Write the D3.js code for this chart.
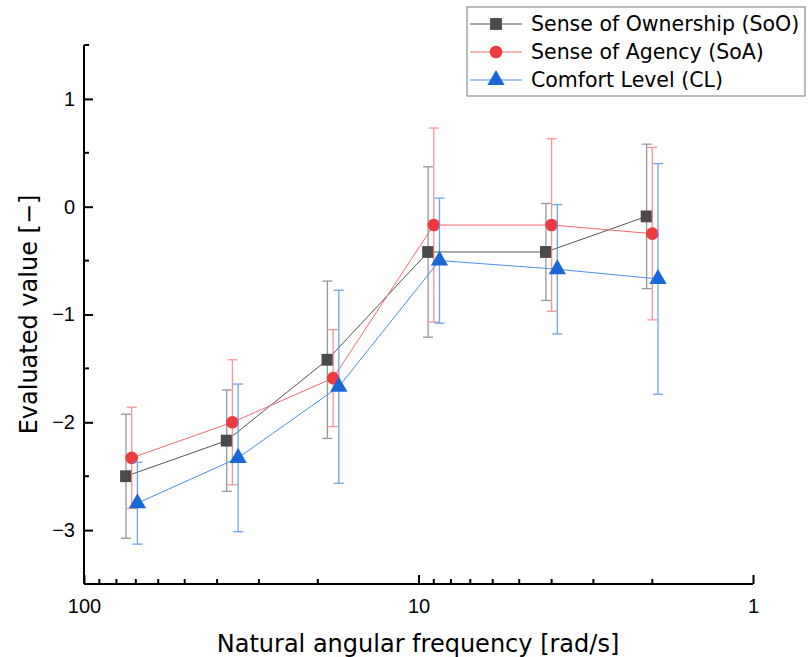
<!DOCTYPE html>
<html>
<head>
<meta charset="utf-8">
<script src="https://cdn.jsdelivr.net/npm/d3@7"></script>
<style>
  body { margin: 0; background: #fff; }
  svg { display: block; font-family: "Liberation Sans", Arial, sans-serif; }
  .title, .legend-text { font-family: "DejaVu Sans", sans-serif; }
</style>
</head>
<body>
<svg id="chart"></svg>
<script>
// nominal frequencies [rad/s]
var freqs = [72, 36, 18, 9, 4, 2];

var sooMean = [-2.50, -2.17, -1.42, -0.42, -0.42, -0.09];
var sooSd   = [0.575, 0.47, 0.73, 0.79, 0.45, 0.67];
var soaMean = [-2.33, -2.00, -1.59, -0.17, -0.17, -0.25];
var soaSd   = [0.47, 0.58, 0.45, 0.90, 0.80, 0.80];
var clMean  = [-2.75, -2.33, -1.67, -0.50, -0.58, -0.67];
var clSd    = [0.38, 0.685, 0.895, 0.58, 0.60, 1.07];

var seriesNames = ["Sense of Ownership (SoO)", "Sense of Agency (SoA)", "Comfort Level (CL)"];
var xTicks = [100, 10, 1];
var yTicks = [-3, -2, -1, 0, 1];

var width = 812, height = 657;
var margin = {top: 45, right: 59, bottom: 73, left: 84};

var svg = d3.select("#chart")
    .attr("width", width)
    .attr("height", height);

var x = d3.scaleLog()
    .domain([100, 1])
    .range([margin.left, width - margin.right]);
var y = d3.scaleLinear()
    .domain([-3.5, 1.5])
    .range([height - margin.bottom, margin.top]);

// series styles, dodge spreads the points a little along x
var series = [
    {name: seriesNames[0], mean: sooMean, sd: sooSd, dodge: 1.04,
     marker: "#4a4a4a", line: "#555", err: "#8c8c8c", shape: d3.symbolSquare, size: 140},
    {name: seriesNames[1], mean: soaMean, sd: soaSd, dodge: 1,
     marker: "#ee3a3e", line: "#f26b6e", err: "#f58a8c", shape: d3.symbolCircle, size: 125},
    {name: seriesNames[2], mean: clMean, sd: clSd, dodge: 1 / 1.04,
     marker: "#1a68d8", line: "#4b8fe6", err: "#5a9cec", shape: d3.symbolTriangle, size: 130}
];

var line = d3.line()
    .x(d => x(d.f))
    .y(d => y(d.v));

series.forEach(function(s) {
    var pts = freqs.map((f, i) => ({f: f * s.dodge, v: s.mean[i], sd: s.sd[i]}));
    var g = svg.append("g");

    // error bars
    var eb = g.append("g")
        .attr("stroke", s.err)
        .attr("stroke-width", 1.3)
        .attr("opacity", 0.9);
    pts.forEach(function(p) {
        var cx = x(p.f), y1 = y(p.v + p.sd), y2 = y(p.v - p.sd);
        eb.append("line").attr("x1", cx).attr("x2", cx).attr("y1", y1).attr("y2", y2);
        eb.append("line").attr("x1", cx - 5).attr("x2", cx + 5).attr("y1", y1).attr("y2", y1);
        eb.append("line").attr("x1", cx - 5).attr("x2", cx + 5).attr("y1", y2).attr("y2", y2);
    });

    g.append("path")
        .attr("d", line(pts))
        .attr("fill", "none")
        .attr("stroke", s.line)
        .attr("stroke-width", 1);

    g.selectAll(".mk")
        .data(pts)
        .enter()
        .append("path")
        .attr("d", d3.symbol().type(s.shape).size(s.size))
        .attr("transform", d => `translate(${x(d.f)},${y(d.v)})`)
        .attr("fill", s.marker);
});

// axes
var xAxis = d3.axisBottom(x)
    .tickValues(xTicks)
    .tickSize(-9)
    .tickPadding(15)
    .tickFormat(d3.format("d"));
var gx = svg.append("g")
    .attr("transform", `translate(0,${height - margin.bottom})`)
    .call(xAxis);
gx.select(".domain").attr("stroke-width", 2).attr("d", `M${margin.left},0H${width - margin.right}`);
gx.selectAll(".tick line").attr("stroke-width", 2);
gx.selectAll(".tick text").attr("font-size", 20).attr("font-family", "inherit").attr("fill", "#000");

// minor x ticks
var minorX = [];
[10, 1].forEach(b => { for (var k = 2; k <= 9; k++) minorX.push(b * k); });
gx.selectAll(".minor")
    .data(minorX)
    .enter()
    .append("line")
    .attr("x1", d => x(d)).attr("x2", d => x(d))
    .attr("y1", 0).attr("y2", -5)
    .attr("stroke", "#000")
    .attr("stroke-width", 2);

var yAxis = d3.axisLeft(y)
    .tickValues(yTicks)
    .tickSize(-9)
    .tickPadding(9)
    .tickFormat(d => d < 0 ? "\u2212" + Math.abs(d) : d);
var gy = svg.append("g")
    .attr("transform", `translate(${margin.left},0)`)
    .call(yAxis);
gy.select(".domain").attr("stroke-width", 2).attr("d", `M0,${margin.top}V${height - margin.bottom}`);
gy.selectAll(".tick line").attr("stroke-width", 2);
gy.selectAll(".tick text").attr("font-size", 20).attr("font-family", "inherit").attr("fill", "#000");

gy.selectAll(".minor")
    .data([-2.5, -1.5, -0.5, 0.5, 1.5])
    .enter()
    .append("line")
    .attr("x1", 0).attr("x2", 5)
    .attr("y1", d => y(d)).attr("y2", d => y(d))
    .attr("stroke", "#000")
    .attr("stroke-width", 2);

// axis titles
svg.append("text")
    .attr("class", "title")
    .attr("x", 418)
    .attr("y", 652)
    .attr("text-anchor", "middle")
    .attr("font-size", 24)
    .text("Natural angular frequency [rad/s]");

svg.append("text")
    .attr("class", "title")
    .attr("transform", `translate(37,${y(-1)}) rotate(-90)`)
    .attr("text-anchor", "middle")
    .attr("font-size", 24)
    .text("Evaluated value [\u2212]");

// legend
var legend = svg.append("g").attr("transform", "translate(467,7)");
legend.append("rect")
    .attr("width", 338)
    .attr("height", 89)
    .attr("fill", "#fff")
    .attr("stroke", "#777")
    .attr("stroke-width", 1);

series.forEach(function(s, i) {
    var row = legend.append("g").attr("transform", `translate(0,${17 + i * 28})`);
    row.append("line")
        .attr("x1", 3).attr("x2", 55)
        .attr("stroke", s.line)
        .attr("stroke-width", 1);
    row.append("path")
        .attr("d", d3.symbol().type(s.shape).size(s.size))
        .attr("transform", "translate(29,0)")
        .attr("fill", s.marker);
    row.append("text")
        .attr("class", "legend-text")
        .attr("x", 64)
        .attr("dy", "0.36em")
        .attr("font-size", 20.5)
        .text(s.name);
});
</script>
</body>
</html>
